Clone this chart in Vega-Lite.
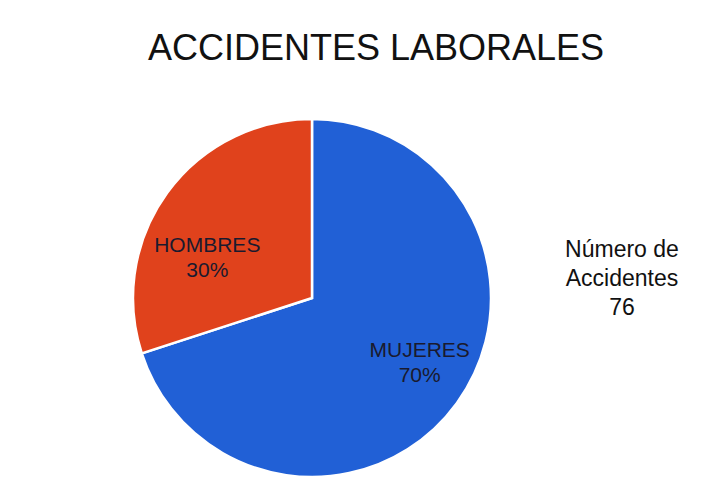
{
  "$schema": "https://vega.github.io/schema/vega-lite/v6.json",
  "background": "white",
  "padding": {"left": 112, "top": 31, "right": 0, "bottom": 0},
  "config": {"view": {"stroke": null}, "font": "Liberation Sans"},
  "title": {
    "text": "ACCIDENTES LABORALES",
    "fontSize": 36,
    "fontWeight": "normal",
    "color": "#111111",
    "font": "Liberation Sans",
    "anchor": "middle",
    "dx": -46,
    "offset": 40
  },
  "spacing": 0,
  "hconcat": [
    {
      "width": 400,
      "height": 380,
      "data": {
        "values": [
          {"sexo": "MUJERES", "pct": 70, "orden": 1, "label": "MUJERES\n70%"},
          {"sexo": "HOMBRES", "pct": 30, "orden": 2, "label": "HOMBRES\n30%"}
        ]
      },
      "encoding": {
        "theta": {"field": "pct", "type": "quantitative", "stack": true},
        "order": {"field": "orden", "type": "quantitative"}
      },
      "layer": [
        {
          "mark": {"type": "arc", "outerRadius": 179, "stroke": "white", "strokeWidth": 2.5},
          "encoding": {
            "color": {
              "field": "sexo",
              "type": "nominal",
              "scale": {"domain": ["MUJERES", "HOMBRES"], "range": ["#2160d6", "#e0421c"]},
              "legend": null
            }
          }
        },
        {
          "mark": {"type": "text", "radius": 122, "fontSize": 21, "lineBreak": "\n", "lineHeight": 25, "align": "center", "baseline": "middle", "dx": 9, "dy": -19, "color": "#1a1a2e"},
          "encoding": {
            "text": {"condition": {"test": "datum.sexo == 'MUJERES'", "field": "label", "type": "nominal"}, "value": ""}
          }
        },
        {
          "mark": {"type": "text", "radius": 122, "fontSize": 21, "lineBreak": "\n", "lineHeight": 25, "align": "center", "baseline": "middle", "dx": -6, "dy": 20, "color": "#1a1a2e"},
          "encoding": {
            "text": {"condition": {"test": "datum.sexo == 'HOMBRES'", "field": "label", "type": "nominal"}, "value": ""}
          }
        }
      ]
    },
    {
      "width": 220,
      "height": 380,
      "data": {"values": [{"texto": "Número de\nAccidentes\n76"}]},
      "mark": {"type": "text", "fontSize": 23, "lineBreak": "\n", "lineHeight": 29, "align": "center", "baseline": "middle", "color": "#111111", "dy": -48},
      "encoding": {"text": {"field": "texto", "type": "nominal"}}
    }
  ]
}
